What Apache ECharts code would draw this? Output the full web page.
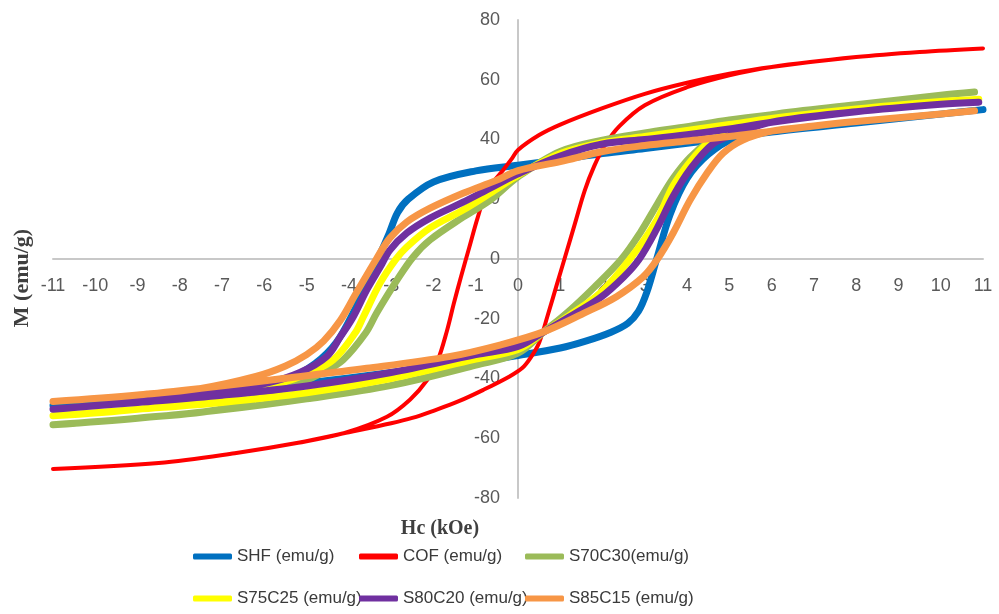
<!DOCTYPE html>
<html>
<head>
<meta charset="utf-8">
<title>Hysteresis loops</title>
<script src="https://cdn.jsdelivr.net/npm/echarts@6/dist/echarts.min.js"></script>
<style>
  html, body { margin: 0; padding: 0; background: #fff; }
  #main { width: 999px; height: 614px; }
</style>
</head>
<body>
<div id="main"></div>
<script>
// field H (kOe), magnetisation M (emu/g); each loop = descending branch + ascending branch
var names = ['SHF (emu/g)', 'COF (emu/g)', 'S70C30(emu/g)', 'S75C25 (emu/g)', 'S80C20 (emu/g)', 'S85C15 (emu/g)']
var colors = ['#0070C0', '#FF0000', '#9BBB59', '#FFFF00', '#7030A0', '#F79646']
var xTicks = [-11, 11, 1]
var yTicks = [-80, 80, 20]

var shfDown = [[11, 50], [10, 48.5], [8, 45.5], [6, 42.5], [5, 40.5], [3, 37], [2, 35.3], [1, 33.3], [0, 31.4], [-1, 29.5],
  [-2, 25.8], [-2.6, 20], [-2.85, 15.5], [-3.05, 8.5], [-3.3, 0.5], [-3.6, -8.5], [-3.9, -18], [-4.3, -28],
  [-4.8, -35], [-5.5, -40.5], [-7, -44.5], [-9, -47], [-11, -49]]
var shfUp = [[-11, -49], [-9, -47], [-7, -44.5], [-5, -41.5], [-3, -38], [-1, -34.5], [0, -32.3], [1, -29.8],
  [1.6, -27.5], [2.2, -24.5], [2.6, -21.5], [2.85, -17.5], [3.05, -11], [3.28, 0], [3.6, 15], [4, 27],
  [4.5, 35], [5.1, 40.3], [6, 42.5], [8, 45.5], [10, 48.5], [11, 50]]

var cofDown = [[11, 70.5], [9.5, 69.3], [8, 67.6], [6, 64.3], [5, 62], [4, 59], [3, 55.3], [2, 50.5], [1, 45],
  [0.5, 41.5], [0, 36.5], [-0.15, 33.5], [-0.35, 29.8], [-0.73, 23], [-0.95, 14], [-1.15, 4], [-1.35, -6],
  [-1.52, -15], [-1.68, -24], [-1.9, -34], [-2.15, -40.5], [-2.55, -47], [-3.1, -52.8], [-4.1, -58.2],
  [-5.2, -61.5], [-6.7, -65], [-8.5, -68.3], [-11, -70.3]]
var cofUp = [[-11, -70.3], [-8.5, -68.3], [-6.7, -65], [-5.2, -61.5], [-4, -58], [-3, -55], [-2.5, -53.2],
  [-2, -50.8], [-1.4, -47.6], [-0.82, -43.8], [-0.2, -39.3], [0.1, -36.5], [0.3, -33], [0.5, -28], [0.7, -19],
  [0.92, -8.5], [1.12, 1], [1.35, 12], [1.58, 23], [1.8, 31], [2.05, 38], [2.4, 44.5], [3, 51.5], [4, 57.5],
  [5, 61.5], [6, 64.3], [8, 67.6], [9.5, 69.3], [11, 70.5]]

var s70Down = [[10.8, 55.9], [10, 54.8], [8, 51.6], [6, 48.3], [5, 46.5], [4, 44.3], [3, 42.2], [2, 39.8],
  [1, 36], [0, 27.5], [-0.66, 19.7], [-1.3, 14], [-2.08, 6.4], [-2.48, 0.7], [-2.86, -7], [-3.34, -18],
  [-3.6, -24.7], [-4.14, -33.8], [-4.61, -38], [-5.16, -41.5], [-6, -45.5], [-7, -50.2], [-9, -53.3], [-11, -55.5]]
var s70Up = [[-11, -55.5], [-9, -53.3], [-7, -50.5], [-5, -46.8], [-3, -42.3], [-1, -35.5], [0, -31.5],
  [0.6, -24.5], [1.2, -17.5], [1.8, -9.5], [2.45, 0], [2.9, 9], [3.3, 18.5], [3.67, 27], [4.07, 34],
  [4.54, 39.5], [5, 42.5], [5.6, 46.5], [6, 48.3], [8, 51.6], [10, 54.8], [10.8, 55.9]]

var s75Down = [[10.9, 53.5], [10, 52.7], [8, 50.2], [6, 47], [5, 45], [4, 43], [3, 41], [2, 39], [1, 35.3],
  [0, 28], [-0.66, 22], [-1.3, 16.4], [-2.08, 10.4], [-2.63, 4], [-2.9, -0.3], [-3.26, -8], [-3.66, -19.4],
  [-3.85, -24.7], [-4.37, -33.8], [-4.92, -38], [-5.7, -42], [-7, -46.5], [-9, -50.3], [-11, -52.5]]
var s75Up = [[-11, -52.5], [-9, -50.3], [-7, -48], [-5, -44.8], [-3, -40], [-1, -33.5], [0, -30.3],
  [0.6, -24.5], [1.2, -19], [1.94, -11.4], [2.65, 0], [3.28, 13], [3.67, 24.5], [4.07, 32.5], [4.47, 38.5],
  [5, 42.5], [5.6, 45.5], [6, 47], [8, 50.2], [10, 52.7], [10.9, 53.5]]

var s80Down = [[10.9, 52.5], [10, 51.8], [8, 49.3], [6, 45.8], [5, 43.5], [4, 41.6], [3, 40], [2, 38.5],
  [1, 34.5], [0, 28.5], [-0.66, 23.7], [-1.3, 19], [-2.08, 13.7], [-2.63, 8.7], [-3.03, 3], [-3.26, -2.7],
  [-3.58, -10.4], [-3.9, -19.4], [-4.2, -26], [-4.52, -32.6], [-5.16, -38], [-5.94, -41.5], [-7.5, -45],
  [-9, -47.7], [-11, -50.3]]
var s80Up = [[-11, -50.3], [-9, -48], [-7, -45.6], [-5, -42.5], [-3, -38], [-1, -32], [0, -29.3],
  [0.6, -24.5], [1.2, -19.5], [1.94, -13], [2.5, -6], [2.87, 0], [3.28, 10], [3.67, 21], [4.07, 30],
  [4.61, 38.5], [5.18, 42], [6, 45.8], [8, 49.3], [10, 51.8], [10.9, 52.5]]

var s85Down = [[10.8, 49.6], [10, 48.5], [8, 46], [7, 44.5], [6, 42.8], [5, 41], [4, 39.5], [3, 38], [2, 36],
  [1, 32.6], [0, 29.6], [-0.5, 26.4], [-1.3, 22], [-2.08, 17], [-2.63, 12.4], [-3.03, 7], [-3.35, 0],
  [-3.85, -12], [-4.2, -20.5], [-4.6, -27.5], [-5, -32], [-5.5, -35.8], [-6.2, -39.3], [-7.5, -43.3],
  [-9, -45.5], [-11, -47.7]]
var s85Up = [[-11, -47.7], [-9, -45.5], [-7.5, -43.3], [-5.55, -40], [-3.58, -36.6], [-1.6, -32.6],
  [-0.43, -28.8], [0.6, -24.4], [1.55, -18.2], [2.33, -12.6], [2.96, -6], [3.3, 0], [3.67, 8.7],
  [4.07, 19.7], [4.47, 28.7], [4.85, 35.4], [5.32, 39.8], [6, 42.8], [7, 44.5], [8, 46], [10, 48.5], [10.8, 49.6]]

var loops = [
  shfDown.concat(shfUp),
  cofDown.concat(cofUp),
  s70Down.concat(s70Up),
  s75Down.concat(s75Up),
  s80Down.concat(s80Up),
  s85Down.concat(s85Up)
]

var W = 999, H = 614
var grid = { left: 53, right: 16, top: 20, bottom: 116 }
var gridW = W - grid.left - grid.right
var gridH = H - grid.top - grid.bottom
// axes cross at zero, so shift them in from the grid edges
var xAxisShift = -gridH * (0 - yTicks[0]) / (yTicks[1] - yTicks[0])
var yAxisShift = -gridW * (0 - xTicks[0]) / (xTicks[1] - xTicks[0])

var tickFont = 'Liberation Sans, Arial, sans-serif'
var axisLine = { show: true, onZero: false, lineStyle: { color: '#c8c8c8', width: 2 } }

var chart = echarts.init(document.getElementById('main'))

var option = {
  animation: false,
  backgroundColor: '#fff',
  grid: { left: grid.left, right: grid.right, top: grid.top, bottom: grid.bottom, containLabel: false, outerBoundsMode: 'none' },
  xAxis: {
    type: 'value',
    position: 'bottom',
    offset: xAxisShift,
    min: xTicks[0],
    max: xTicks[1],
    interval: xTicks[2],
    axisLine: axisLine,
    axisTick: { show: false },
    splitLine: { show: false },
    axisLabel: { margin: 18, fontSize: 18, color: '#595959', fontFamily: tickFont, interval: 0, showMinLabel: true, showMaxLabel: true, hideOverlap: false }
  },
  yAxis: {
    type: 'value',
    position: 'left',
    offset: yAxisShift,
    min: yTicks[0],
    max: yTicks[1],
    interval: yTicks[2],
    axisLine: axisLine,
    axisTick: { show: false },
    splitLine: { show: false },
    axisLabel: { margin: 18, fontSize: 18, color: '#595959', fontFamily: tickFont, showMinLabel: true, showMaxLabel: true }
  },
  legend: names.map(function (n, i) {
    return {
      data: [n],
      left: 193 + (i % 3) * 166,
      top: 548 + Math.floor(i / 3) * 42,
      padding: 0,
      icon: 'roundRect',
      itemWidth: 39,
      itemHeight: 6,
      textStyle: { fontSize: 17, color: '#3a3a3a', fontFamily: tickFont }
    }
  }),
  graphic: [
    {
      type: 'text',
      x: 22,
      y: 278,
      rotation: Math.PI / 2,
      style: { text: 'M (emu/g)', font: 'bold 22px Liberation Serif, Times New Roman, serif', fill: '#3f3f3f', textAlign: 'center', textVerticalAlign: 'middle' }
    },
    {
      type: 'text',
      x: 440,
      y: 529,
      style: { text: 'Hc (kOe)', font: 'bold 20px Liberation Serif, Times New Roman, serif', fill: '#3f3f3f', textAlign: 'center', textVerticalAlign: 'middle' }
    }
  ],
  series: loops.map(function (pts, i) {
    return {
      name: names[i],
      type: 'line',
      data: pts,
      smooth: 0.35,
      showSymbol: false,
      symbol: 'none',
      color: colors[i],
      lineStyle: { color: colors[i], width: i === 1 ? 4 : 7, cap: 'round', join: 'round' }
    }
  })
}

chart.setOption(option)
</script>
</body>
</html>
